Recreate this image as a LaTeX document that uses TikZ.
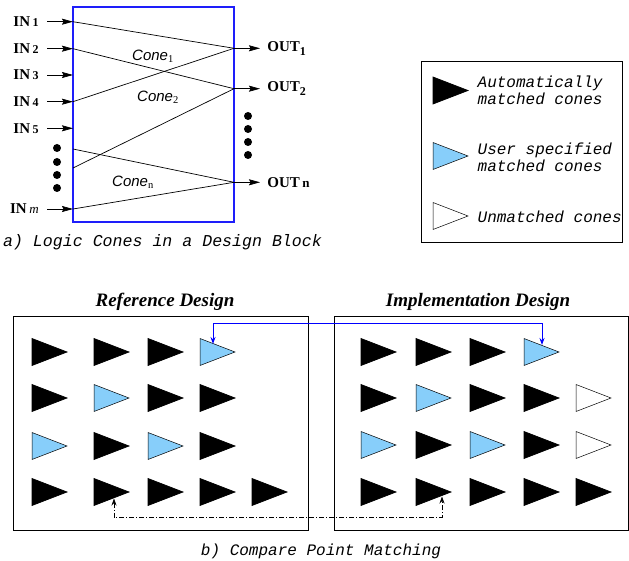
\documentclass[tikz,border=0pt]{standalone}
\usepackage{fontspec}
\setmainfont{Liberation Serif}
\setsansfont{Liberation Sans}
\setmonofont{Liberation Mono}
\usetikzlibrary{arrows.meta,positioning,calc}
\definecolor{userblue}{RGB}{135,206,250}
\definecolor{blkblue}{RGB}{30,30,250}

% a cone: name, left x, centre y, style
\newcommand{\cone}[4]{%
  \filldraw[#4] (#2,#3-13.5) -- (#2+35,#3) -- (#2,#3+13.5) -- cycle;
  \coordinate (#1) at (#2+17.5,#3);}
\newcommand{\inlab}[1]{\textbf{IN}\,{\fontsize{12}{12}\selectfont\bfseries #1}}
\newcommand{\outsub}[1]{\textbf{OUT}\raisebox{-3.5pt}{\fontsize{12}{12}\selectfont\bfseries #1}}

\begin{document}
\begin{tikzpicture}[x=1pt,y=-1pt,line width=0.7pt,
    sig/.style={-{Stealth[length=11pt,width=6pt,inset=1.5pt]}},
    inname/.style={font=\fontsize{15}{15}\selectfont, inner xsep=8pt, inner ysep=1pt},
    outname/.style={font=\fontsize{15}{15}\selectfont, inner xsep=7pt, inner ysep=1pt},
    conename/.style={font=\sffamily\itshape\fontsize{15}{15}\selectfont},
    tt/.style={font=\ttfamily\itshape\fontsize{16}{17}\selectfont, align=left},
    head/.style={font=\bfseries\itshape\fontsize{19}{19}\selectfont},
    cone-a/.style={fill=black, draw=black},
    cone-u/.style={fill=userblue, draw=black, line width=0.5pt},
    cone-w/.style={fill=white, draw=black, line width=0.5pt},
    link/.style={{Stealth[length=7pt,width=5pt]}-{Stealth[length=7pt,width=5pt]}, line width=0.8pt}]
\useasboundingbox (0,0) rectangle (629,561);

%%% a) logic cones in a block
\draw[blkblue, line width=1.2pt] (73,7) rectangle (234,222);
\foreach \n/\y in {1/21.7, 2/48.7, 3/75, 4/101.7, 5/128.3, m/209, a/149, b/168}
  \coordinate (p\n) at (73,\y);
\foreach \n/\y in {1/48.3, 2/88.7, n/182.3}
  \coordinate (q\n) at (234,\y);

\foreach \n in {1,...,5} {
  \node[inname, left=26pt of p\n] (in\n) {\inlab{\n}};
  \draw[sig] (in\n) -- (p\n);
}
\node[inname, left=26pt of pm] (inm) {\textbf{IN}\,{\fontsize{13}{13}\selectfont\itshape m}};
\draw[sig] (inm) -- (pm);

\node[outname, right=26pt of q1] (out1) {\outsub{1}};
\node[outname, right=26pt of q2] (out2) {\outsub{2}};
\node[outname, right=26pt of qn] (outn) {\textbf{OUT}\,{\fontsize{13}{13}\selectfont\bfseries n}};
\foreach \n in {1,2,n}
  \draw[sig] (q\n) -- (out\n);

% the cones
\draw (p1) -- (q1);
\draw (p4) -- (q1);
\draw (p2) -- (q2);
\draw (pb) -- (q2);
\draw (pa) -- (qn);
\draw (pm) -- (qn);

\node[conename] (c1) at (153,56) {Cone$_{\mathrm{1}}$};
\node[conename] (c2) at (158,97) {Cone$_{\mathrm{2}}$};
\node[conename] (cn) at (133,182) {Cone$_{\mathrm{n}}$};

\foreach \y in {148,162,175,188}
  \fill (57,\y) circle (4);
\foreach \y in {116,129,142,155}
  \fill (248,\y) circle (4);

\node[tt, font=\ttfamily\itshape\fontsize{16.6}{17}\selectfont] (capa) at (162.5,242) {a) Logic Cones in a Design Block};

%%% legend
\draw (421,61) rectangle (622,242);
\cone{key-a}{433}{90.5}{cone-a}
\cone{key-u}{433}{156}{cone-u}
\cone{key-w}{433}{216}{cone-w}
\node[tt, anchor=west] (txt-a) at (474,90.5) {Automatically\\matched cones};
\node[tt, anchor=west] (txt-u) at (474,157.5) {User specified\\matched cones};
\node[tt, anchor=west] (txt-w) at (474,216.5) {Unmatched cones};

%%% b) compare point matching
\draw (13,316) rectangle (308,530);
\draw (334,316) rectangle (628,530);
\node[head] (refhead) at (165,302) {Reference Design};
\node[head] (imphead) at (478,302) {Implementation Design};

\foreach \kinds [count=\r] in {{a,a,a,u},{a,u,a,a},{u,a,u,a},{a,a,a,a,a}} {
  \pgfmathsetmacro\cy{{352,398,446,492}[\r-1]}
  \foreach \k [count=\c] in \kinds {
    \pgfmathsetmacro\cx{{32,94,148,200,252}[\c-1]}
    \cone{ref-\r-\c}{\cx}{\cy}{cone-\k}
  }
}
\foreach \kinds [count=\r] in {{a,a,a,u},{a,u,a,a,w},{u,a,u,a,w},{a,a,a,a,a}} {
  \pgfmathsetmacro\cy{{352,398,445,492}[\r-1]}
  \foreach \k [count=\c] in \kinds {
    \pgfmathsetmacro\cx{{361,416,470,524,576}[\c-1]}
    \cone{imp-\r-\c}{\cx}{\cy}{cone-\k}
  }
}

% user specified match and a traced auto match
\draw[link, blue, line width=1pt] ($(ref-1-4)+(-4.5,-8)$) -- ++(0,-21) -| ($(imp-1-4)+(0.5,-7)$);
\draw[link, dash pattern=on 5pt off 2pt on 1pt off 2pt]
  ($(ref-4-2)+(2.5,6.5)$) -- ++(0,19) -| ($(imp-4-2)+(8.5,4.5)$);

\node[tt] (capb) at (321,551) {b) Compare Point Matching};
\end{tikzpicture}
\end{document}
